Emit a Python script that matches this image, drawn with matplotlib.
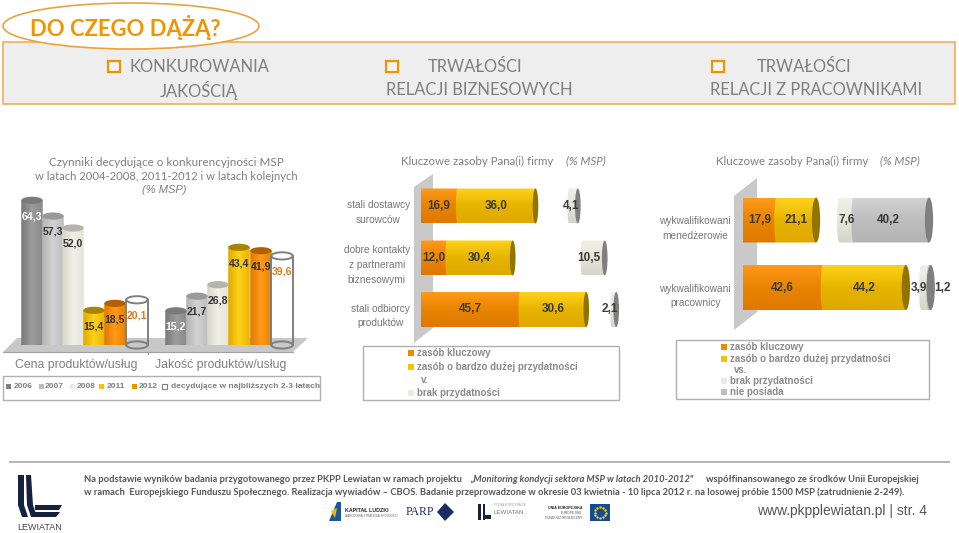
import numpy as np
import matplotlib
matplotlib.use('Agg')
import matplotlib.pyplot as plt
from matplotlib.patches import Ellipse, Rectangle, Polygon, PathPatch
from matplotlib.path import Path

plt.rcParams['font.family'] = ['Liberation Sans', 'DejaVu Sans']
WASKA = ['Lato', 'Liberation Sans', 'DejaVu Sans']

# dane - wykres slupkowy
lata = ['2006', '2007', '2008', '2011', '2012', 'decydujące w najbliższych 2-3 latach']
cena = [64.3, 57.3, 52.0, 15.4, 18.5, 20.1]
jakosc = [15.2, 21.7, 26.8, 43.4, 41.9, 39.6]
kategorie = ['Cena produktów/usług', 'Jakość produktów/usług']

# dane - zasoby partnerow (odstep to niewidoczna seria)
wiersze_a = ['stali dostawcy\nsurowców', 'dobre kontakty\nz partnerami\nbiznesowymi', 'stali odbiorcy\nproduktów']
kluczowy_a = [16.9, 12.0, 45.7]
przydatny_a = [36.0, 30.4, 30.6]
odstep_a = [15.4, 31.9, 11.7]
brak_a = [4.1, 10.5, 2.1]

# dane - zasoby pracownikow
wiersze_b = ['wykwalifikowani\nmenedżerowie', 'wykwalifikowani\npracownicy']
kluczowy_b = [17.9, 42.6]
przydatny_b = [21.1, 44.2]
odstep_b = [12.3, 8.1]
brak_b = [7.6, 3.9]
nie_posiada_b = [40.2, 1.2]

SZARY = '#7f7f7f'
POM = '#f29400'

W, H = 959, 533
fig = plt.figure(figsize=(W / 100, H / 100), dpi=100, facecolor='white')


def px_axes(x0, y0, x1, y1):
    # osie ustawione wg pikseli obrazka (y liczone od gory)
    return fig.add_axes([x0 / W, 1 - y1 / H, (x1 - x0) / W, (y1 - y0) / H])


bg = px_axes(0, 0, W, H)
bg.set_xlim(0, W)
bg.set_ylim(H, 0)
bg.axis('off')


def gradient(ax, sciezka, kolory, ext, pion):
    cmap = matplotlib.colors.LinearSegmentedColormap.from_list('g', kolory)
    g = np.linspace(0, 1, 64)
    g = g[:, None] if pion else g[None, :]
    xl, yl = ax.get_xlim(), ax.get_ylim()
    im = ax.imshow(g, cmap=cmap, extent=ext, aspect='auto', origin='lower', zorder=3)
    im.set_clip_path(PathPatch(sciezka, transform=ax.transData))
    ax.set_xlim(xl)
    ax.set_ylim(yl)


def slupek(ax, x, h, szer, kol, ry):
    # pionowy walec
    a, b = x - szer / 2, x + szer / 2
    if kol is None:
        ax.add_patch(Ellipse((x, 0), szer, 2 * ry, fc='none', ec='#808080', lw=1.4, zorder=4, clip_on=False))
        ax.add_patch(Ellipse((x, h), szer, 2 * ry, fc='white', ec='#808080', lw=1.4, zorder=4, clip_on=False))
        ax.plot([a, a], [0, h], color='#808080', lw=1.4, zorder=4, clip_on=False)
        ax.plot([b, b], [0, h], color='#808080', lw=1.4, zorder=4, clip_on=False)
        return
    th = np.linspace(np.pi, 2 * np.pi, 30)
    dol = np.c_[x + szer / 2 * np.cos(th), ry * np.sin(th)]
    sc = Path(np.r_[dol, [[b, h], [a, h]], [dol[0]]])
    gradient(ax, sc, kol[:3], (a, b, -ry, h), False)
    ax.add_patch(Ellipse((x, h), szer, 2 * ry, fc=kol[3], ec='none', zorder=4, clip_on=False))


SZ_K = ['#787878', '#9c9c9c', '#8a8a8a', '#7b7b7b']
JS_K = ['#b4b4b4', '#d2d2d2', '#bdbdbd', '#9a9a9a']
KR_K = ['#d6d5c8', '#f1f0e8', '#e6e5da', '#b5b5ab']
ZO_K = ['#e0a800', '#ffd21a', '#e6b400', '#a88400']
PO_K = ['#e07800', '#ff9a1a', '#e98400', '#b36100']
KOLORY_SL = [SZ_K, JS_K, KR_K, ZO_K, PO_K, None]
KOL_ETYK = ['white', '#333333', '#333333', '#333333', '#333333', '#e07b20']

# --- naglowek ---
bg.add_patch(Rectangle((3, 42), 952, 62, fc='#eeeeee', ec='#f0b056', lw=1.2))
bg.add_patch(Ellipse((131, 26), 256, 46, fc='white', ec='#eba33c', lw=1.2, zorder=3))
bg.text(30, 27, 'DO CZEGO DĄŻĄ?', color=POM, fontsize=15.8, va='center', zorder=4, family=WASKA, fontweight='bold')
naglowki = [('KONKUROWANIA', 'JAKOŚCIĄ', 199.5, 199, 108), ('TRWAŁOŚCI', 'RELACJI BIZNESOWYCH', 475, 479.5, 386),
            ('TRWAŁOŚCI', 'RELACJI Z PRACOWNIKAMI', 804, 816, 712)]
for g1, g2, xc1, xc2, xk in naglowki:
    bg.add_patch(Rectangle((xk, 61), 12, 11, fc='#f4f4f4', ec=POM, lw=1.6))
    bg.text(xc1, 67, g1, color=SZARY, fontsize=11.9, ha='center', va='center', family=WASKA)
    bg.text(xc2, 90, g2, color=SZARY, fontsize=11.9, ha='center', va='center', family=WASKA)

# --- tytuly ---
bg.text(166, 162, 'Czynniki decydujące o konkurencyjności MSP', color=SZARY, fontsize=8.4, ha='center', va='center', family=WASKA)
bg.text(166, 176, 'w latach 2004-2008, 2011-2012 i w latach kolejnych', color=SZARY, fontsize=8.1, ha='center', va='center', family=WASKA)
bg.text(164, 190, '(% MSP)', color=SZARY, fontsize=8, ha='center', va='center', style='italic')
bg.text(477, 161, 'Kluczowe zasoby Pana(i) firmy', color=SZARY, fontsize=8.3, ha='center', va='center', family=WASKA)
bg.text(586, 161, '(% MSP)', color=SZARY, fontsize=8.4, ha='center', va='center', style='italic', family=WASKA)
bg.text(792, 161, 'Kluczowe zasoby Pana(i) firmy', color=SZARY, fontsize=8.3, ha='center', va='center', family=WASKA)
bg.text(900, 161, '(% MSP)', color=SZARY, fontsize=8.4, ha='center', va='center', style='italic', family=WASKA)

# --- wykres slupkowy ---
bg.add_patch(Polygon([[3, 352], [17, 338], [308, 338], [293, 352]], fc='#c8c8c8', ec='none'))
bg.plot([3, 293], [352, 352], color='#a0a0a0', lw=0.8)
bg.plot([148, 148], [352, 354], color='#a0a0a0', lw=0.8)
ax = px_axes(0, 190, 330, 345)
ax.set_xlim(0, 330)
ax.set_ylim(0, 155 / 2.25)
ax.axis('off')
ax.patch.set_alpha(0)
pozycje = [[32, 53, 73, 94, 115, 137], [176, 197, 218, 239, 261, 282]]
for poz, wart in zip(pozycje, [cena, jakosc]):
    for x, v, kol, ke in zip(poz, wart, KOLORY_SL, KOL_ETYK):
        slupek(ax, x, v, 21.5, kol, 1.6)
        ax.text(x, v - 7, f'{v:.1f}'.replace('.', ','), color=ke, fontsize=7.6, fontweight='bold',
                ha='center', va='center', zorder=6, clip_on=False)

bg.text(76, 365, kategorie[0], color=SZARY, fontsize=8.8, ha='center', va='center')
bg.text(221, 365, kategorie[1], color=SZARY, fontsize=8.8, ha='center', va='center')
bg.add_patch(Rectangle((3, 376), 317, 24, fc='white', ec='#b0b0b0', lw=1))
leg_x = [(6, 14), (39, 45), (70, 77), (99, 107), (132, 139), (162, 171)]
leg_k = ['#808080', '#bdbdbd', '#ecebe2', '#f5c400', '#f29400', None]
for (xk, xt), k, t in zip(leg_x, leg_k, lata):
    bg.add_patch(Rectangle((xk, 384), 5, 5, fc=k if k else 'white', ec='#808080' if k is None else 'none', lw=0.8))
    bg.text(xt, 387, t, color=SZARY, fontsize=6, va='center', fontweight='bold')


# --- wykresy poziome ---
def walec_h(ax, x0, szer, y, h, kol, rx):
    th = np.linspace(np.pi / 2, 3 * np.pi / 2, 30)
    lewy = np.c_[x0 + rx * 0.5 * np.cos(th), y + h / 2 * np.sin(th)]
    sc = Path(np.r_[lewy, [[x0 + szer, y - h / 2], [x0 + szer, y + h / 2]], [lewy[0]]])
    gradient(ax, sc, [kol[1], kol[2], kol[0]], (x0 - rx, x0 + szer, y - h / 2, y + h / 2), True)


def wykres_h(x0_px, skala, y0, y1, serie, rzedy, h, rx, przes):
    ax = px_axes(x0_px, y0, W, y1)
    ax.set_xlim(0, (W - x0_px) / skala)
    ax.set_ylim(y1, y0)
    ax.axis('off')
    ax.patch.set_alpha(0)
    for i, yc in enumerate(rzedy):
        lewo = 0
        for j, (wart, kol, dekiel) in enumerate(serie):
            v = wart[i]
            if kol is not None:
                walec_h(ax, lewo, v, yc, h, kol, rx)
                ax.text(lewo + v / 2 + przes.get((i, j), 0) / skala, yc, f'{v:.1f}'.replace('.', ','),
                        color='#3a3a3a', fontsize=8.5, fontweight='bold', ha='center', va='center',
                        zorder=7, clip_on=False)
                if dekiel:
                    ax.add_patch(Ellipse((lewo + v, yc), 2 * rx, h, fc=dekiel, ec='none', zorder=5, clip_on=False))
            lewo += v


bg.add_patch(Polygon([[414, 187], [433, 174], [433, 328], [414, 343]], fc='#c9c9c9', ec='none'))
bg.add_patch(Polygon([[734, 196], [757, 178], [757, 312], [734, 330]], fc='#c9c9c9', ec='none'))

# przesuniecia etykiet w pikselach: (wiersz, seria)
wykres_h(420.7, 2.17, 185, 335,
         [(kluczowy_a, PO_K, None), (przydatny_a, ZO_K, '#8f7400'), (odstep_a, None, None), (brak_a, KR_K, '#808080')],
         [206, 258, 309.5], 35, 1.3, {(0, 3): -2, (1, 3): -4, (2, 3): -4})
wykres_h(742.7, 1.88, 190, 320,
         [(kluczowy_b, PO_K, None), (przydatny_b, ZO_K, '#8f7400'), (odstep_b, None, None), (brak_b, KR_K, None),
          (nie_posiada_b, JS_K, '#7f7f7f')],
         [220, 287.5], 45, 2.2, {(1, 3): -6, (1, 4): 13, (0, 4): -3})

for t, y in zip(wiersze_a, [212.5, 265, 316]):
    bg.text(410, y, t, color='#777777', fontsize=7.3, ha='right', va='center', multialignment='center', linespacing=1.6)
for t, y in zip(wiersze_b, [228.5, 296]):
    bg.text(731, y, t, color='#777777', fontsize=7.3, ha='right', va='center', multialignment='center', linespacing=1.6)


def legenda(xr, yr, wr, hr, xk, wpisy):
    bg.add_patch(Rectangle((xr, yr), wr, hr, fc='white', ec='#b0b0b0', lw=1))
    for y, t, k in wpisy:
        if k:
            bg.add_patch(Rectangle((xk, y - 3), 6, 6, fc=k, ec='none'))
            bg.text(xk + 9, y, t, color='#8a8a8a', fontsize=7, va='center', fontweight='bold')
        else:
            bg.text(xk + 13, y, t, color='#8a8a8a', fontsize=7, va='center', fontweight='bold')


legenda(363, 346, 256, 54, 408, [(353, 'zasób kluczowy', '#f08a00'),
                                 (367, 'zasób o bardzo dużej przydatności', '#f5c400'),
                                 (380, 'v.', None), (393, 'brak przydatności', '#ecebe2')])
legenda(676, 340, 253, 59, 721, [(347, 'zasób kluczowy', '#f08a00'),
                                 (359, 'zasób o bardzo dużej przydatności', '#f5c400'),
                                 (370, 'vs.', None), (381, 'brak przydatności', '#ecebe2'),
                                 (392, 'nie posiada', '#bdbdbd')])

# --- stopka ---
bg.plot([10, 949], [462, 462], color='#b5b5b5', lw=1.4)
sk = dict(color='#555555', fontsize=6.78, va='center', fontweight='bold', family=WASKA)
bg.text(84, 479, 'Na podstawie wyników badania przygotowanego przez PKPP Lewiatan w ramach projektu', **sk)
bg.text(470, 479, '„Monitoring kondycji sektora MSP w latach 2010-2012"', style='italic', **sk)
bg.text(706, 479, 'współfinansowanego ze środków Unii Europejskiej', **sk)
bg.text(84, 492, 'w ramach  Europejskiego Funduszu Społecznego. Realizacja wywiadów – CBOS. Badanie przeprowadzone w okresie 03 kwietnia - 10 lipca 2012 r. na losowej próbie 1500 MSP (zatrudnienie 2-249).', **sk)
bg.text(927, 511, 'www.pkpplewiatan.pl | str. 4', color='#555555', fontsize=10, ha='right', va='center')

# logo Lewiatan i male logotypy
GR = '#16213f'
bg.add_patch(Polygon([[18, 475], [24, 475], [24, 505], [28, 517], [22, 517], [18, 505]], fc=GR, ec='none'))
bg.add_patch(Polygon([[26, 475], [31, 475], [33, 505], [37, 517], [31, 517], [27, 505]], fc=GR, ec='none'))
bg.add_patch(Polygon([[35, 505], [62, 505], [59, 510], [35, 510]], fc=GR, ec='none'))
bg.add_patch(Polygon([[35, 512], [60, 512], [56, 517], [35, 517]], fc=GR, ec='none'))
bg.text(17, 527, 'LEWIATAN', color='#444444', fontsize=6.5, va='center')

bg.add_patch(Polygon([[329, 521], [337, 502], [341, 502], [341, 521]], fc='#1a56a4', ec='none'))
bg.add_patch(Polygon([[331, 511], [337, 508], [335, 518]], fc='#f5b800', ec='none'))
bg.text(345, 511, 'KAPITAŁ LUDZKI', color='#222222', fontsize=3.8, va='center', fontweight='bold')
bg.text(345, 516, 'NARODOWA STRATEGIA SPÓJNOŚCI', color='#666666', fontsize=2.2, va='center')
bg.text(406, 512, 'PARP', color='#1b2f63', fontsize=8.5, va='center', family='Liberation Serif')
bg.add_patch(Polygon([[445, 503], [454, 512], [445, 521], [437, 512]], fc='#1b2f63', ec='none'))
bg.add_patch(Rectangle((478, 504), 3, 16, fc=GR, ec='none'))
bg.add_patch(Rectangle((483, 504), 2, 16, fc=GR, ec='none'))
bg.add_patch(Rectangle((485, 515), 6, 4, fc=GR, ec='none'))
bg.text(494, 505, 'POLSKA KONFEDERACJA', color='#999999', fontsize=1.8, va='center')
bg.text(494, 513, 'LEWIATAN', color='#777777', fontsize=4.4, va='center')
bg.text(582, 508, 'UNIA EUROPEJSKA', color='#222222', fontsize=2.6, va='center', ha='right', fontweight='bold')
bg.text(582, 513, 'EUROPEJSKI', color='#555555', fontsize=2.4, va='center', ha='right')
bg.text(582, 518, 'FUNDUSZ SPOŁECZNY', color='#555555', fontsize=2.4, va='center', ha='right')
bg.add_patch(Rectangle((590, 504), 20, 17, fc='#114a9e', ec='none'))
th = np.linspace(0, 2 * np.pi, 12, endpoint=False)
bg.scatter(600 + 5.5 * np.cos(th), 512.5 + 5.5 * np.sin(th), s=0.6, color='#f5d000', zorder=3)

fig.savefig('out.png', dpi=100, facecolor='white')
